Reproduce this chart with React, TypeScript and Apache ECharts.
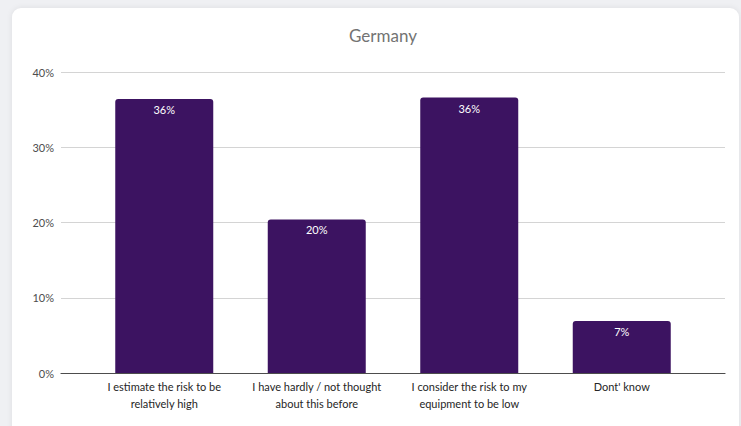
import React, { useEffect, useRef } from "react";
import * as echarts from "echarts";

const categories = [
  "I estimate the risk to be\nrelatively high",
  "I have hardly / not thought\nabout this before",
  "I consider the risk to my\nequipment to be low",
  "Dont' know",
];
const values = [36.4, 20.4, 36.6, 6.9];
const valueLabels = ["36%", "20%", "36%", "7%"];
const yTicks = [0, 10, 20, 30, 40];

export default function App() {
  const ref = useRef<HTMLDivElement>(null);
  useEffect(() => {
    if (!ref.current) return;
    const chart = echarts.init(ref.current, null, { renderer: "svg" });
    const font = "Lato, 'Open Sans', sans-serif";
    chart.setOption({
      animation: false,
      title: {
        text: "Germany",
        left: 378,
        textAlign: "center",
        top: 22,
        textStyle: { color: "#737373", fontSize: 17, fontWeight: "normal", fontFamily: font },
      },
      grid: [
        { left: 61, right: 16, top: 72, bottom: 426 - 373, containLabel: false },
        { left: 88, right: 741 - 698, top: 72, bottom: 426 - 373, containLabel: false },
      ],
      xAxis: [
        {
          type: "value",
          gridIndex: 0,
          show: true,
          min: 0,
          max: 1,
          axisLabel: { show: false },
          axisTick: { show: false },
          splitLine: { show: false },
          axisLine: { show: true, onZero: false, lineStyle: { color: "#4d4d4d", width: 1.2 } },
        },
        {
          type: "category",
          gridIndex: 1,
          data: categories,
          axisLine: { show: false },
          axisTick: { show: false },
          axisLabel: {
            color: "#262626",
            fontSize: 11,
            fontFamily: font,
            lineHeight: 17,
            margin: 5,
            interval: 0,
          },
        },
      ],
      yAxis: [
        {
          type: "value",
          gridIndex: 0,
          min: 0,
          max: 40,
          interval: 10,
          axisLine: { show: false },
          axisTick: { show: false },
          axisLabel: {
            color: "#4d4d4d",
            fontSize: 11,
            fontFamily: font,
            margin: 7,
            formatter: (v: number) => (yTicks.includes(v) ? v + "%" : ""),
          },
          splitLine: { show: true, lineStyle: { color: "#d4d4d4", width: 1.2 } },
        },
        {
          type: "value",
          gridIndex: 1,
          min: 0,
          max: 40,
          interval: 10,
          show: false,
          splitLine: { show: false },
        },
      ],
      series: [
        {
          type: "bar",
          xAxisIndex: 1,
          yAxisIndex: 1,
          data: values,
          barWidth: 98,
          itemStyle: { color: "#3C1361", borderRadius: [3, 3, 0, 0] },
          label: {
            show: true,
            position: "insideTop",
            distance: 5,
            color: "#ffffff",
            fontSize: 11,
            fontFamily: font,
            formatter: (p: any) => valueLabels[p.dataIndex],
          },
          z: 3,
        },
      ],
    });
    return () => chart.dispose();
  }, []);

  return (
    <div
      style={{
        position: "fixed",
        left: 0,
        top: 0,
        width: 741,
        height: 426,
        background: "#eff0f3",
        overflow: "hidden",
      }}
    >
      <div
        style={{
          position: "absolute",
          left: 12,
          top: 8,
          width: 727,
          height: 440,
          background: "#ffffff",
          borderRadius: 9,
          boxShadow: "0 0 6px rgba(0,0,0,0.08)",
        }}
      />
      <div ref={ref} style={{ position: "absolute", left: 0, top: 0, width: 741, height: 426 }} />
    </div>
  );
}
